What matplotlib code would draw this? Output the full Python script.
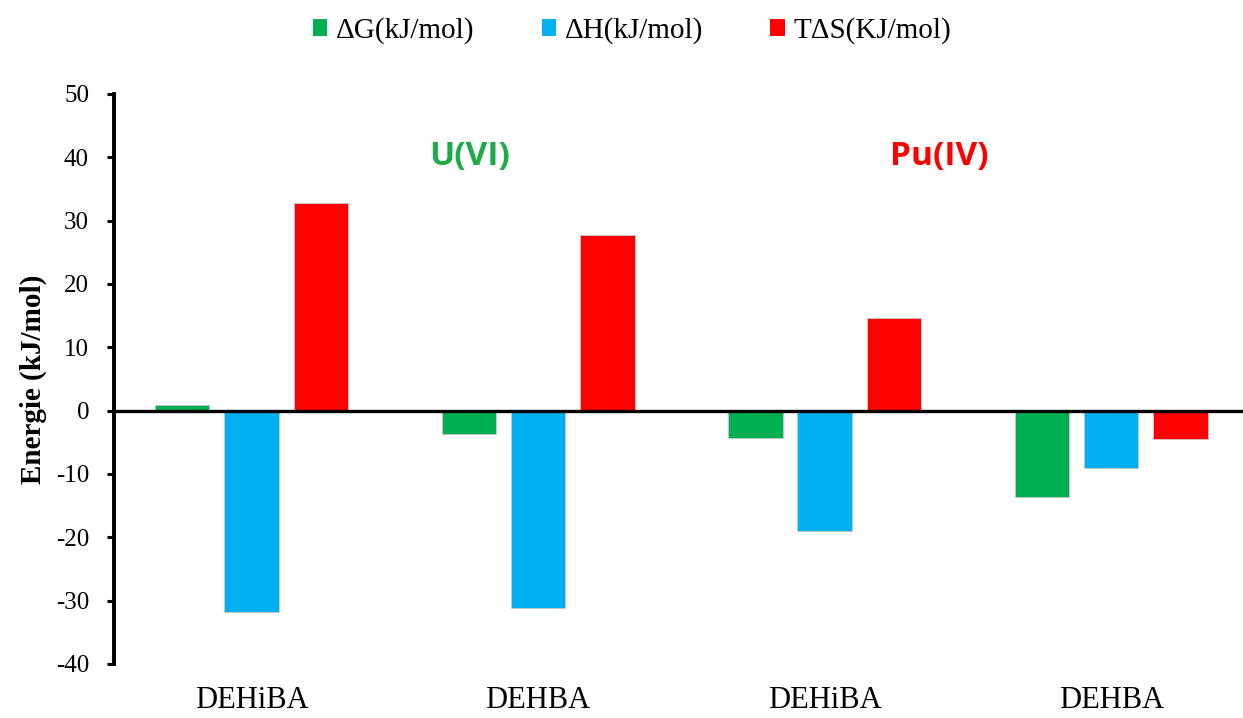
import matplotlib
matplotlib.use("Agg")
import matplotlib.pyplot as plt
from matplotlib.patches import Patch
import numpy as np

categories = ["DEHiBA", "DEHBA", "DEHiBA", "DEHBA"]
dG = [0.9, -3.7, -4.3, -13.6]
dH = [-31.8, -31.2, -19.0, -9.0]
TdS = [32.8, 27.7, 14.6, -4.5]
series_labels = ["ΔG(kJ/mol)", "ΔH(kJ/mol)", "TΔS(KJ/mol)"]
colors = ["#00B050", "#00B0F0", "#FF0000"]
yticks = [-40, -30, -20, -10, 0, 10, 20, 30, 40, 50]

serif = ["Liberation Serif", "DejaVu Serif"]

fig = plt.figure(figsize=(12.43, 7.18), dpi=100)
ax = fig.add_axes([114/1243, 54/718, 1 - 114/1243, (664-94)/718])

x = np.arange(len(categories))
w = 0.19
off = 0.242
for vals, dx, c in zip([dG, dH, TdS], [-off, 0, off], colors):
    ax.bar(x + dx, vals, width=w, color=c, edgecolor="#c8c8c8", linewidth=0.6, zorder=2)

ax.axhline(0, color="black", linewidth=2.4, zorder=3)
ax.set_xlim(-0.48, 3.46)
ax.set_ylim(-40, 50)
ax.set_yticks(yticks)
ax.set_yticklabels([str(t) for t in yticks], fontfamily=serif, fontsize=18)
ax.set_xticks(x)
ax.set_xticklabels(categories, fontfamily=serif, fontsize=22)
ax.tick_params(axis="x", length=0, pad=16)
ax.tick_params(axis="y", direction="out", length=5, width=2.2, pad=13)
for s in ["top", "right", "bottom"]:
    ax.spines[s].set_visible(False)
ax.spines["left"].set_linewidth(2.8)
ax.set_ylabel("Energie (kJ/mol)", fontfamily=serif, fontsize=21, fontweight="bold", labelpad=6)

ax.text(470/1243, 1 - 157/718, "U(VI)", transform=fig.transFigure, ha="center", va="center",
        fontsize=24, fontweight="bold", color="#1DAA48", fontfamily="Open Sans")
ax.text(939/1243, 1 - 157/718, "Pu(IV)", transform=fig.transFigure, ha="center", va="center",
        fontsize=24, fontweight="bold", color="#FF0000", fontfamily="Open Sans")

handles = [Patch(facecolor=c, edgecolor="none") for c in colors]
fig.legend(handles, series_labels, loc="center", bbox_to_anchor=(632/1243, 1 - 31/718), ncol=3,
           frameon=False, prop={"family": serif, "size": 21}, handlelength=0.5, handleheight=0.5,
           handletextpad=0.3, columnspacing=2.3)

fig.savefig("out.png", dpi=100)
